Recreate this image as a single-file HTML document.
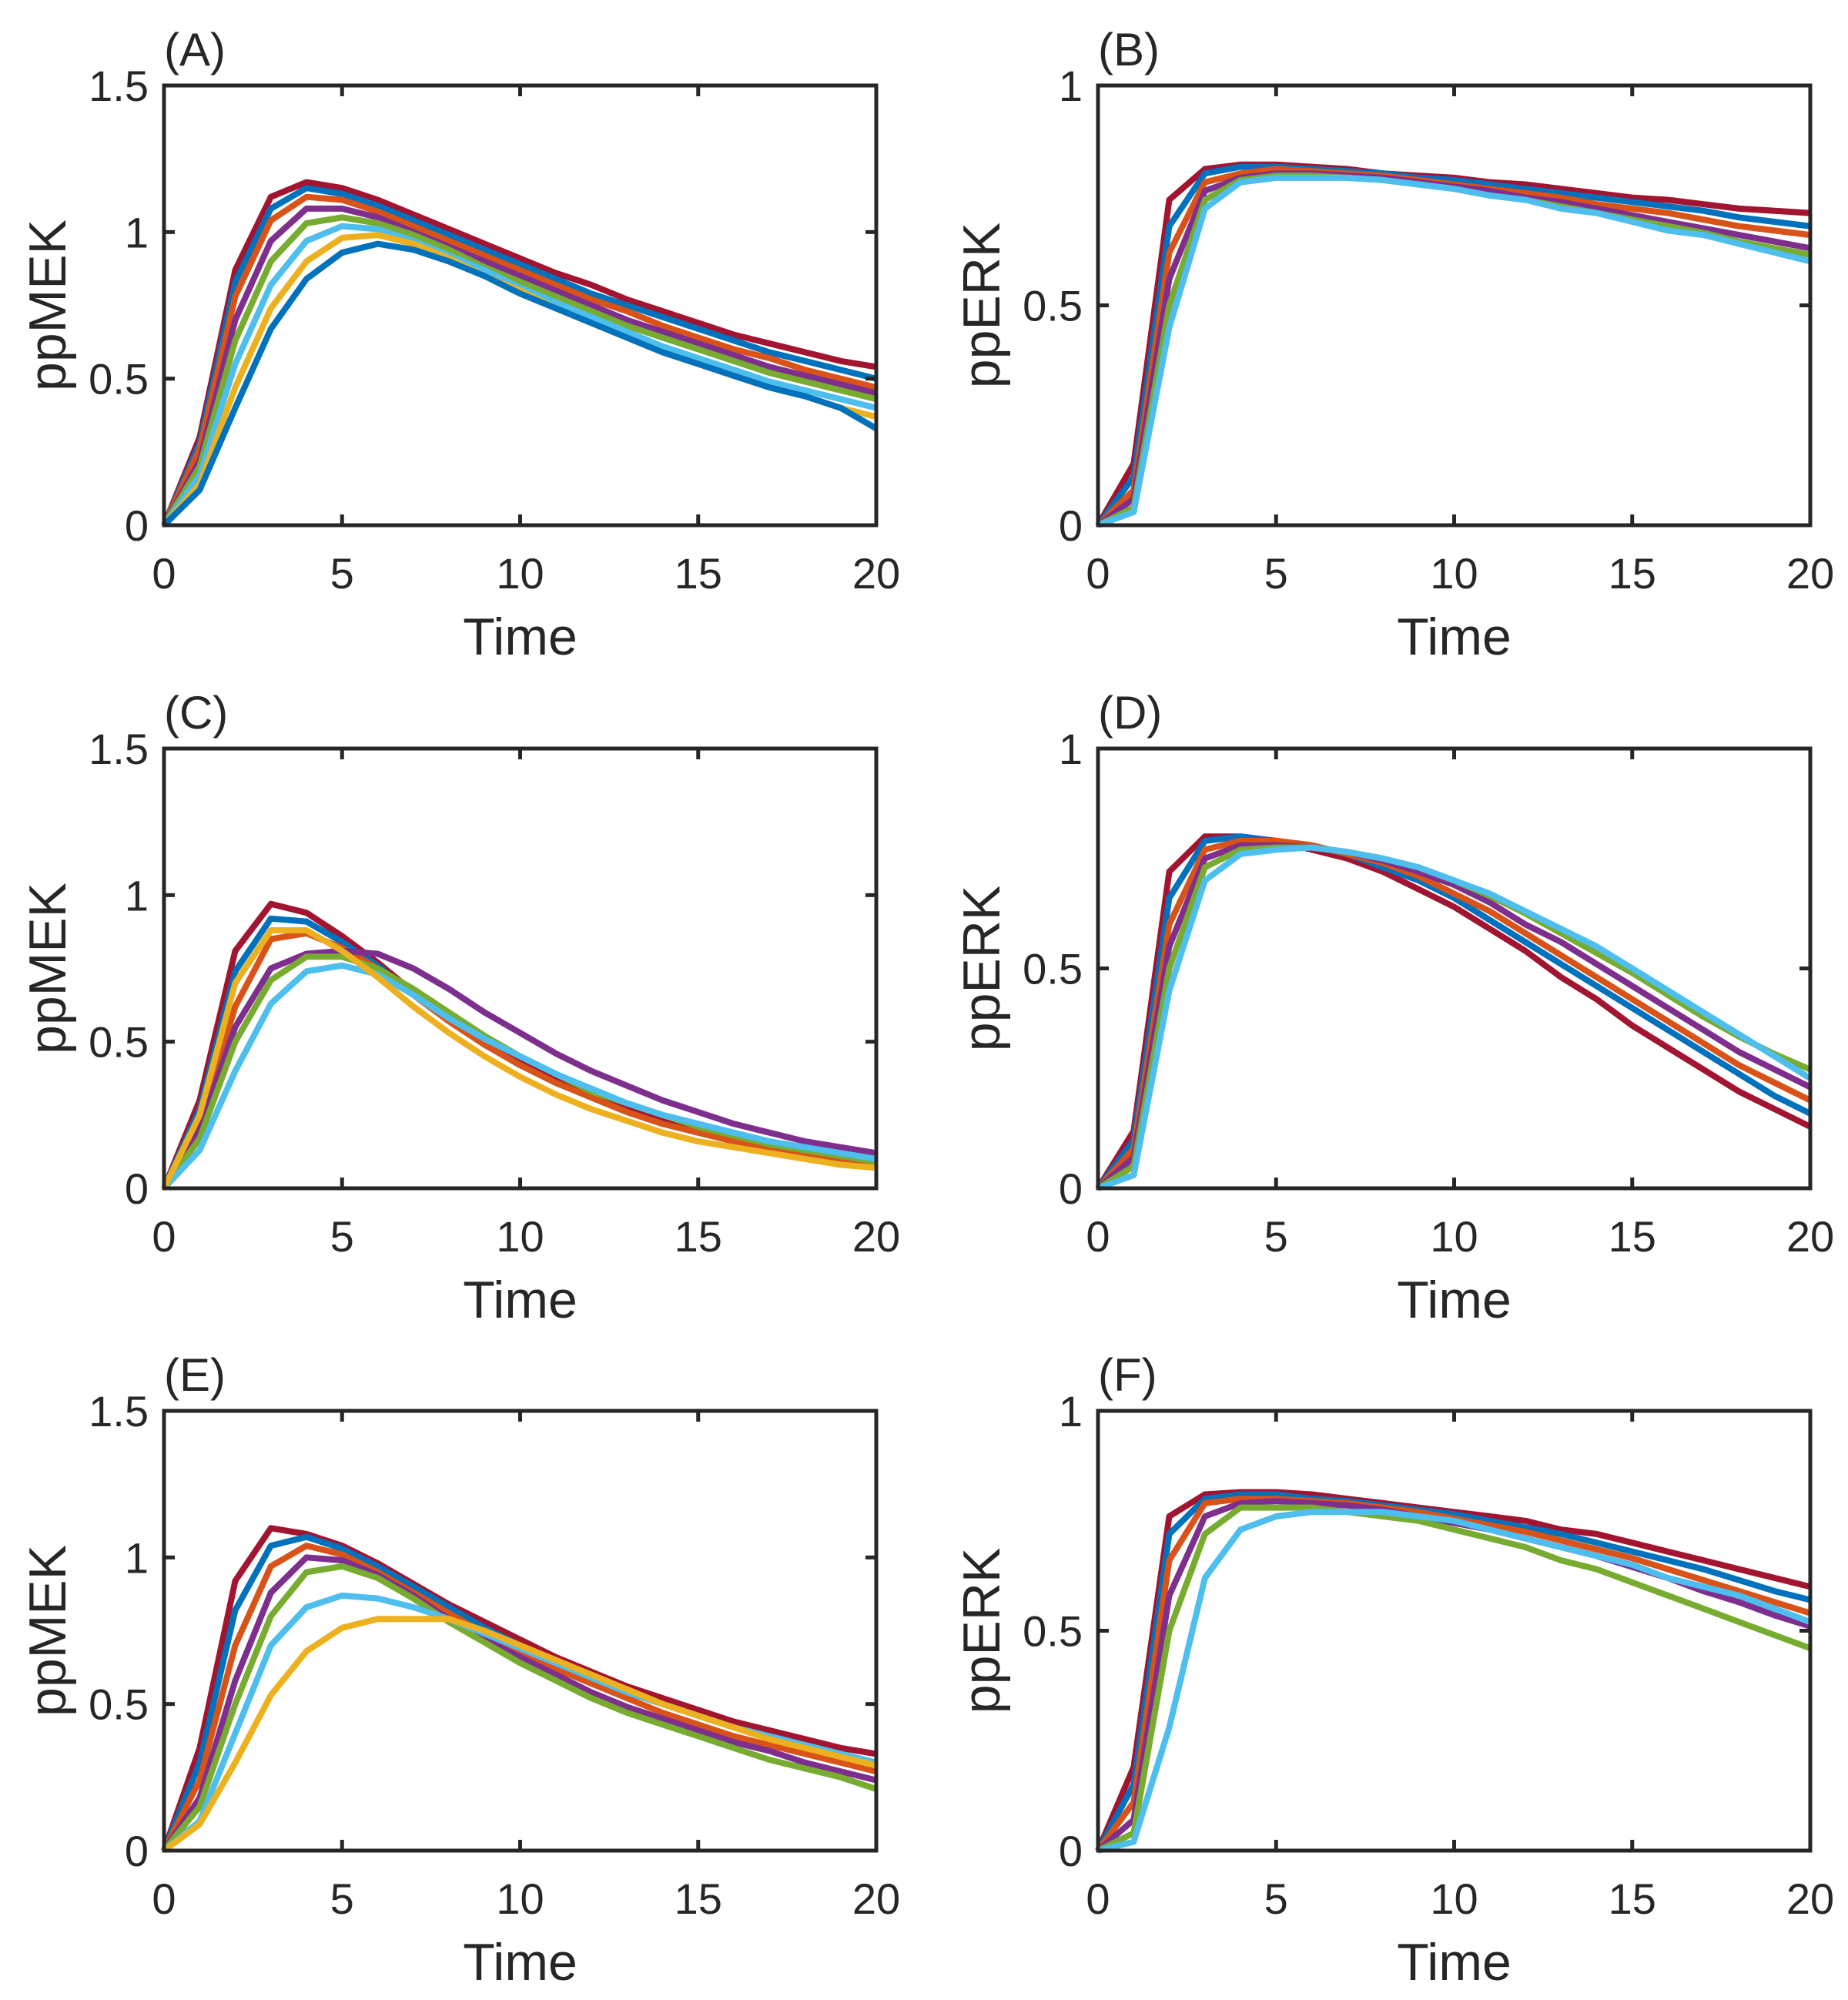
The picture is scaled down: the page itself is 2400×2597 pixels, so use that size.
<!DOCTYPE html>
<html><head><meta charset="utf-8"><style>
html,body{margin:0;padding:0;background:#fff}
svg{display:block}
text{font-family:"Liberation Sans",sans-serif;fill:#262626}
</style></head><body>
<svg id="fig" width="2400" height="2597" viewBox="0 0 2400 2597" xmlns="http://www.w3.org/2000/svg"></svg>
<script>
const times = [0,1,2,3,4,5,6,7,8,9,10,11,12,13,14,15,16,17,18,19,20];
const xTicks = [0,5,10,15,20];
const mekTicks = [0,0.5,1,1.5];
const mekTickLabels = ["0","0.5","1","1.5"];
const erkTicks = [0,0.5,1];
const erkTickLabels = ["0","0.5","1"];
const colors = ["#A2142F","#0072BD","#D95319","#7E2F8E","#77AC30","#4DBEEE","#EDB120","#0072BD","#D95319"];

const seriesA = [
[0,.30,.87,1.12,1.17,1.15,1.11,1.06,1.01,.96,.91,.86,.82,.77,.73,.69,.65,.62,.59,.56,.54],
[0,.28,.83,1.08,1.15,1.13,1.09,1.04,.99,.94,.89,.84,.79,.75,.71,.67,.63,.59,.56,.53,.50],
[0,.26,.78,1.04,1.12,1.11,1.07,1.02,.97,.92,.87,.82,.77,.73,.68,.64,.60,.57,.53,.50,.47],
[0,.22,.70,.97,1.08,1.08,1.05,1.00,.95,.90,.85,.80,.75,.70,.66,.62,.58,.54,.51,.48,.45],
[0,.20,.63,.90,1.03,1.05,1.03,.99,.94,.88,.83,.78,.73,.68,.64,.60,.56,.52,.49,.46,.43],
[0,.17,.55,.82,.97,1.02,1.01,.97,.92,.87,.81,.76,.71,.66,.61,.57,.53,.49,.46,.43,.40],
[0,.14,.47,.74,.90,.98,.99,.96,.91,.85,.80,.74,.69,.64,.59,.55,.51,.47,.44,.40,.37],
[0,.12,.40,.67,.84,.93,.96,.94,.90,.85,.79,.74,.69,.64,.59,.55,.51,.47,.44,.40,.33]
];
const seriesB = [
[0,.14,.74,.81,.82,.82,.815,.81,.80,.795,.79,.78,.775,.765,.755,.745,.74,.73,.72,.715,.71],
[0,.11,.68,.80,.815,.815,.81,.805,.80,.79,.785,.775,.765,.755,.745,.735,.725,.715,.70,.69,.68],
[0,.08,.62,.78,.80,.81,.805,.80,.795,.785,.775,.765,.755,.745,.73,.72,.71,.695,.68,.67,.66],
[0,.06,.56,.76,.79,.80,.80,.795,.79,.78,.77,.76,.745,.735,.72,.705,.69,.675,.66,.645,.63],
[0,.04,.50,.74,.785,.795,.795,.79,.785,.775,.765,.75,.74,.725,.71,.695,.68,.665,.645,.63,.615],
[0,.03,.45,.72,.78,.79,.79,.79,.785,.775,.765,.75,.74,.72,.71,.69,.67,.66,.64,.62,.60]
];
const seriesC = [
[0,.30,.81,.97,.94,.86,.77,.67,.58,.50,.43,.37,.32,.27,.23,.20,.17,.15,.13,.11,.10],
[0,.27,.74,.92,.91,.84,.76,.66,.57,.49,.42,.36,.31,.26,.22,.19,.16,.14,.12,.10,.08],
[0,.22,.62,.85,.87,.82,.75,.66,.57,.49,.42,.36,.31,.26,.22,.19,.16,.14,.12,.10,.08],
[0,.20,.55,.75,.80,.81,.80,.75,.68,.60,.53,.46,.40,.35,.30,.26,.22,.19,.16,.14,.12],
[0,.17,.50,.71,.79,.79,.75,.68,.60,.52,.45,.39,.33,.29,.25,.21,.18,.15,.13,.11,.09],
[0,.13,.40,.63,.74,.76,.73,.66,.58,.51,.45,.39,.34,.29,.25,.22,.19,.16,.14,.12,.10],
[0,.25,.70,.88,.88,.81,.72,.62,.53,.45,.38,.32,.27,.23,.19,.16,.14,.12,.10,.08,.07]
];
const seriesD = [
[0,.13,.72,.80,.80,.79,.77,.75,.72,.68,.64,.59,.54,.48,.43,.37,.32,.27,.22,.18,.14],
[0,.11,.66,.79,.80,.79,.78,.76,.73,.70,.66,.61,.56,.51,.46,.41,.36,.31,.26,.21,.17],
[0,.09,.60,.77,.79,.79,.78,.76,.74,.71,.67,.63,.58,.53,.48,.43,.38,.33,.28,.24,.20],
[0,.07,.55,.75,.78,.78,.775,.765,.745,.72,.69,.65,.60,.56,.51,.46,.41,.36,.31,.27,.23],
[0,.05,.50,.73,.77,.775,.775,.765,.75,.73,.70,.665,.625,.58,.535,.49,.44,.39,.345,.305,.27],
[0,.03,.45,.70,.76,.77,.775,.765,.75,.73,.70,.67,.63,.59,.55,.50,.45,.40,.35,.30,.25]
];
const seriesE = [
[0,.35,.92,1.10,1.08,1.04,.98,.91,.84,.78,.72,.66,.61,.56,.52,.48,.44,.41,.38,.35,.33],
[0,.30,.82,1.04,1.07,1.03,.97,.90,.83,.76,.70,.64,.59,.54,.50,.46,.42,.39,.36,.33,.30],
[0,.24,.70,.97,1.04,1.01,.95,.88,.81,.74,.68,.62,.57,.52,.47,.43,.39,.36,.33,.30,.27],
[0,.18,.58,.88,1.00,.99,.94,.87,.79,.72,.66,.60,.54,.49,.45,.41,.37,.34,.30,.27,.24],
[0,.15,.50,.80,.95,.97,.93,.86,.78,.71,.64,.58,.52,.47,.43,.39,.35,.31,.28,.25,.21],
[0,.10,.40,.70,.83,.87,.86,.83,.79,.74,.69,.64,.59,.54,.50,.46,.42,.39,.36,.33,.30],
[0,.09,.30,.53,.68,.76,.79,.79,.79,.75,.70,.65,.60,.55,.50,.46,.42,.38,.35,.32,.29]
];
const seriesF = [
[0,.19,.76,.81,.815,.815,.81,.80,.79,.78,.77,.76,.75,.73,.72,.70,.68,.66,.64,.62,.60],
[0,.15,.72,.80,.81,.81,.80,.795,.785,.775,.765,.75,.735,.72,.70,.68,.66,.64,.615,.59,.57],
[0,.11,.66,.79,.80,.80,.795,.79,.78,.77,.755,.74,.725,.705,.685,.665,.64,.615,.59,.565,.54],
[0,.07,.58,.76,.79,.795,.79,.785,.775,.76,.745,.73,.71,.69,.67,.645,.62,.59,.565,.535,.51],
[0,.04,.50,.72,.78,.78,.78,.77,.76,.75,.73,.71,.69,.66,.64,.61,.58,.55,.52,.49,.46],
[0,.02,.28,.62,.73,.76,.77,.77,.77,.76,.75,.73,.71,.69,.67,.65,.62,.60,.58,.55,.52]
];

const panels = [
 {id:"A",series:seriesA,x0:213,x1:1138,y0:111,y1:682,ymax:1.5,ticks:mekTicks,labels:mekTickLabels,ylab:"ppMEK"},
 {id:"B",series:seriesB,x0:1426,x1:2351,y0:111,y1:682,ymax:1,ticks:erkTicks,labels:erkTickLabels,ylab:"ppERK"},
 {id:"C",series:seriesC,x0:213,x1:1138,y0:972,y1:1543,ymax:1.5,ticks:mekTicks,labels:mekTickLabels,ylab:"ppMEK"},
 {id:"D",series:seriesD,x0:1426,x1:2351,y0:972,y1:1543,ymax:1,ticks:erkTicks,labels:erkTickLabels,ylab:"ppERK"},
 {id:"E",series:seriesE,x0:213,x1:1138,y0:1832,y1:2403,ymax:1.5,ticks:mekTicks,labels:mekTickLabels,ylab:"ppMEK"},
 {id:"F",series:seriesF,x0:1426,x1:2351,y0:1832,y1:2403,ymax:1,ticks:erkTicks,labels:erkTickLabels,ylab:"ppERK"}
];
const NS="http://www.w3.org/2000/svg";
const svg=document.getElementById("fig");
function mk(tag,attrs,parent){const e=document.createElementNS(NS,tag);for(const k in attrs)e.setAttribute(k,attrs[k]);parent.appendChild(e);return e;}
panels.forEach(p=>{
  const g=mk("g",{},svg);
  
  
  const sx=t=>p.x0+(t-0)/(20-0)*(p.x1-p.x0);
  const sy=v=>p.y1-v/p.ymax*(p.y1-p.y0);
  p.series.forEach((s,i)=>{
    const d=s.map((v,k)=>(k?"L":"M")+sx(times[k]).toFixed(1)+" "+sy(v).toFixed(1)).join(" ");
    const path=mk("path",{d:d,fill:"none",stroke:colors[i%colors.length],"stroke-width":8,"stroke-linejoin":"round"},g);
    
    
  });
  const box=mk("rect",{x:p.x0,y:p.y0,width:p.x1-p.x0,height:p.y1-p.y0,fill:"none",stroke:"#262626","stroke-width":5},g);
  
  
  xTicks.forEach(t=>{
    const x=sx(t);
    mk("line",{x1:x,x2:x,y1:p.y1,y2:p.y1-14,stroke:"#262626","stroke-width":5},g);
    mk("line",{x1:x,x2:x,y1:p.y0,y2:p.y0+14,stroke:"#262626","stroke-width":5},g);
    const tl=mk("text",{x:x,y:p.y1+82,"font-size":56,"text-anchor":"middle"},g);
    tl.textContent=String(t);
    
    
  });
  p.ticks.forEach((v,i)=>{
    const y=sy(v);
    mk("line",{x1:p.x0,x2:p.x0+14,y1:y,y2:y,stroke:"#262626","stroke-width":5},g);
    mk("line",{x1:p.x1,x2:p.x1-14,y1:y,y2:y,stroke:"#262626","stroke-width":5},g);
    const tl=mk("text",{x:p.x0-20,y:y+20,"font-size":56,"text-anchor":"end"},g);
    tl.textContent=p.labels[i];
    
    
  });
  const xl=mk("text",{x:(p.x0+p.x1)/2,y:p.y1+168,"font-size":68,"text-anchor":"middle"},g);
  xl.textContent="Time";
  
  
  const yc=(p.y0+p.y1)/2, xc=p.x0-128;
  const yl=mk("text",{x:xc,y:yc,"font-size":68,"text-anchor":"middle",transform:"rotate(-90 "+xc+" "+yc+")"},g);
  yl.textContent=p.ylab;
  
  
  const pl=mk("text",{x:p.x0,y:p.y0-26,"font-size":60},g);
  pl.textContent="("+p.id+")";
  
  
});
</script>
</body></html>
